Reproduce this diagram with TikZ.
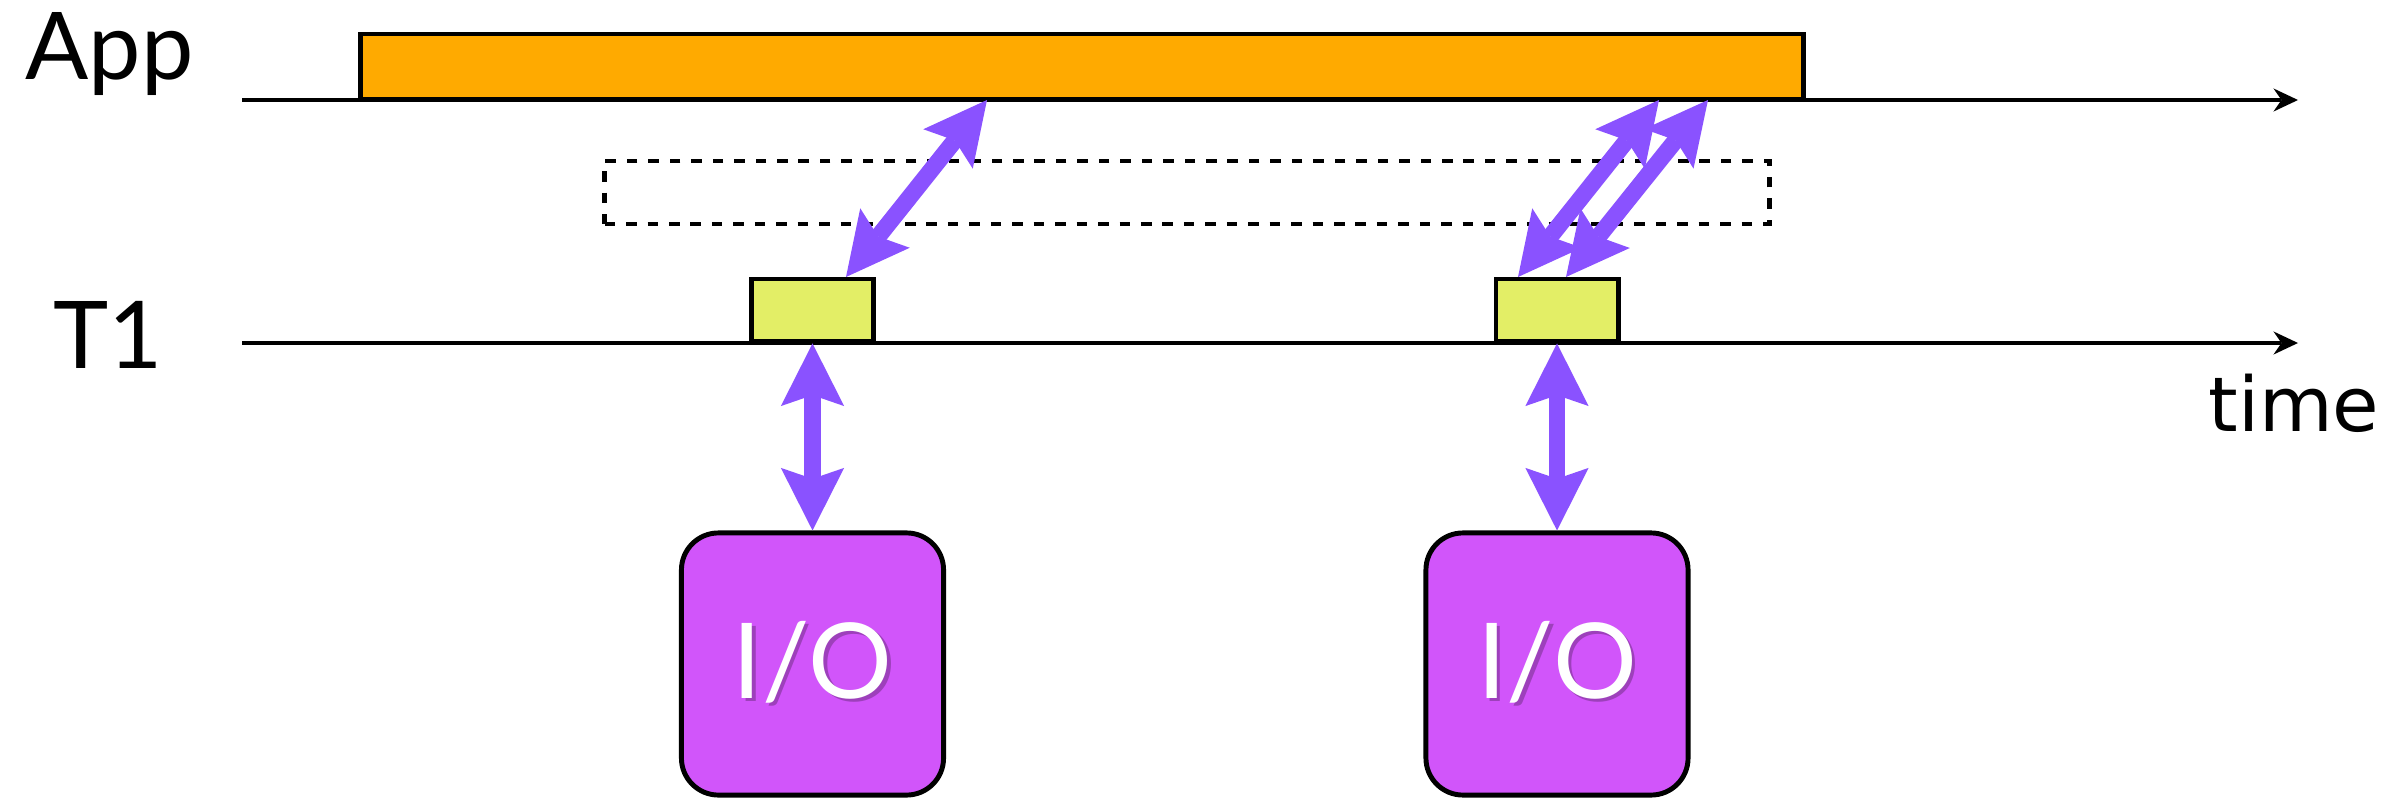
\documentclass[tikz,border=0pt]{standalone}
\usepackage{fontspec}
\newfontfamily\labelfont{Lato}
\newfontfamily\timefont{DejaVu Sans}
\usetikzlibrary{arrows.meta}
\definecolor{appbar}{RGB}{255,170,0}
\definecolor{taskbox}{RGB}{227,238,102}
\definecolor{ioarrow}{RGB}{138,82,255}
\definecolor{iobox}{RGB}{209,85,250}
\newcommand{\iolabel}{\makebox[0pt][l]{\hspace{1pt}\raisebox{-1pt}{\color{iobox!75!black}I/O}}I/O}
\begin{document}
\begin{tikzpicture}[x=0.01cm,y=-0.01cm,
  timeline/.style={line width=1.35pt,arrows={-Stealth[length=7pt,width=6.6pt,inset=2.3pt,line width=0pt]}},
  bar/.style={draw,line width=1.4pt,inner sep=0pt},
  iolink/.style={draw=ioarrow,line width=4.8pt,arrows={Stealth[length=17.8pt,width=18pt,inset=3.1pt,line width=0pt]-Stealth[length=17.8pt,width=18pt,inset=3.1pt,line width=0pt]}},
  iodevice/.style={draw,line width=1.4pt,fill=iobox,rounded corners=0.37cm,minimum width=2.62cm,minimum height=2.62cm,inner sep=0pt,text=white,font=\labelfont\fontsize{29.8}{32}\selectfont},
  rowlabel/.style={inner sep=0pt,font=\labelfont\fontsize{26.6}{30}\selectfont}]
\useasboundingbox (0,0) rectangle (2387,800);

\node[rowlabel,anchor=base west] (applabel) at (25,80) {App};
\node[rowlabel,anchor=base west] (tlabel) at (53,368) {T1};
\node[inner sep=0pt,anchor=base east,font=\timefont\fontsize{21.5}{24}\selectfont] (timelabel) at (2380,431) {time};

\coordinate (appstart) at (242,100);
\coordinate (append) at (2298,100);
\coordinate (tstart) at (242,343);
\coordinate (tend) at (2298,343);
\draw[timeline] (appstart) -- (append);
\draw[timeline] (tstart) -- (tend);

\node[bar,fill=appbar,minimum width=14.42cm,minimum height=0.65cm] (app) at (1082,66.5) {};
\node[bar,dashed,dash pattern=on 3pt off 3.1pt,minimum width=11.64cm,minimum height=0.63cm] (pool) at (1187,192.5) {};
\node[bar,fill=taskbox,minimum width=1.22cm,minimum height=0.62cm] (tA) at (812.5,310) {};
\node[bar,fill=taskbox,minimum width=1.22cm,minimum height=0.62cm] (tB) at (1557,310) {};
\node[iodevice] (ioA) at (812.5,664) {\iolabel};
\node[iodevice] (ioB) at (1557,664) {\iolabel};

\coordinate (inA) at (846,277);
\coordinate (outA) at (987,100);
\coordinate (inB) at (1518,277);
\coordinate (outB) at (1659,100);
\coordinate (inC) at (1566,277);
\coordinate (outC) at (1708,100);

\draw[iolink] (tA.south) -- (ioA.north);
\draw[iolink] (tB.south) -- (ioB.north);
\draw[iolink] (inA) -- (outA);
\draw[iolink] (inB) -- (outB);
\draw[iolink] (inC) -- (outC);
\end{tikzpicture}
\end{document}
